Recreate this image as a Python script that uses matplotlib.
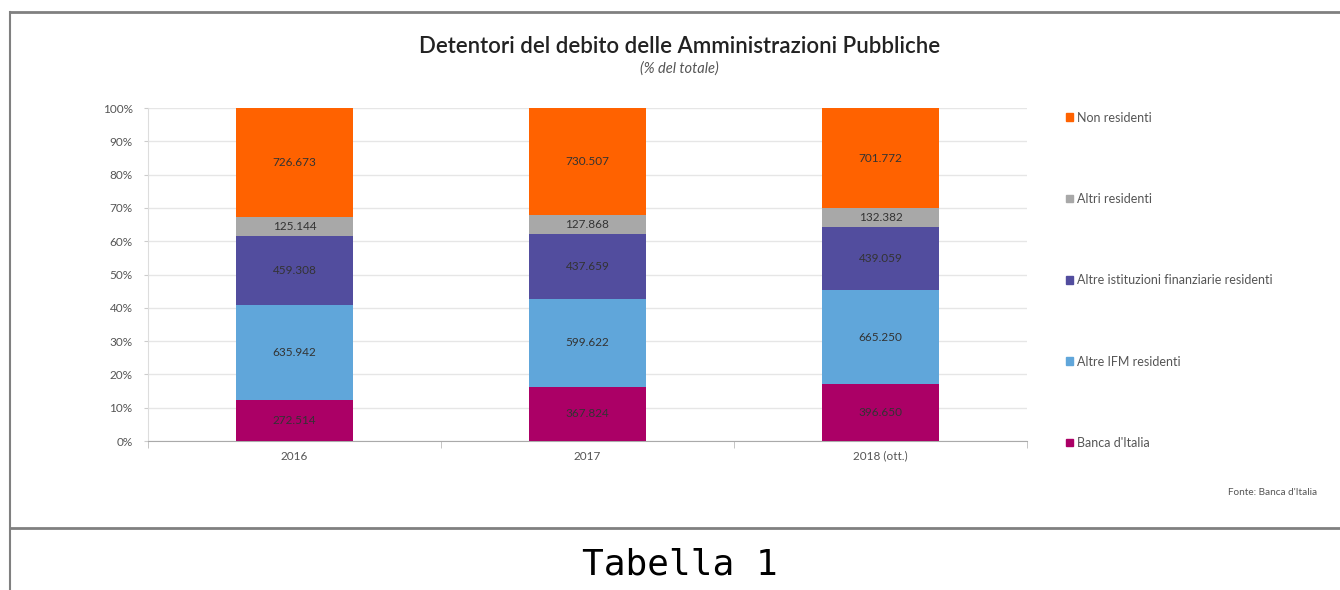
import numpy as np
import matplotlib
matplotlib.use("Agg")
import matplotlib.pyplot as plt
from matplotlib.lines import Line2D
from matplotlib.patches import Patch

# -------------------- DATI --------------------
anni = ["2016", "2017", "2018 (ott.)"]
serie = ["Banca d'Italia", "Altre IFM residenti", "Altre istituzioni finanziarie residenti",
         "Altri residenti", "Non residenti"]
banca_italia = [272514, 367824, 396650]
altre_ifm = [635942, 599622, 665250]
altre_istituzioni = [459308, 437659, 439059]
altri_residenti = [125144, 127868, 132382]
non_residenti = [726673, 730507, 701772]
etichette = {
    "Banca d'Italia": ["272.514", "367.824", "396.650"],
    "Altre IFM residenti": ["635.942", "599.622", "665.250"],
    "Altre istituzioni finanziarie residenti": ["459.308", "437.659", "439.059"],
    "Altri residenti": ["125.144", "127.868", "132.382"],
    "Non residenti": ["726.673", "730.507", "701.772"],
}
colori = ["#AB0066", "#60A6DA", "#524D9E", "#A8A8A8", "#FF6200"]

valori = np.array([banca_italia, altre_ifm, altre_istituzioni, altri_residenti, non_residenti], dtype=float)
percentuali = valori / valori.sum(axis=0) * 100

plt.rcParams["font.family"] = ["Lato", "DejaVu Sans"]

fig = plt.figure(figsize=(13.4, 5.9), dpi=100)
ax = fig.add_axes([0.1104, 0.2525, 0.656, 0.5644])

x = np.arange(len(anni))
base = np.zeros(len(anni))
for i, nome in enumerate(serie):
    barre = ax.bar(x, percentuali[i], bottom=base, width=0.4, color=colori[i], label=nome, zorder=3)
    for j, b in enumerate(barre):
        ax.text(b.get_x() + b.get_width() / 2, base[j] + percentuali[i][j] / 2, etichette[nome][j],
                ha="center", va="center", fontsize=8.5, color="#333333", zorder=4)
    base += percentuali[i]

# assi
ax.set_xlim(-0.5, 2.5)
ax.set_ylim(0, 100)
ax.set_yticks(np.arange(0, 101, 10))
ax.set_yticklabels([f"{v}%" for v in range(0, 101, 10)])
ax.set_xticks(x)
ax.set_xticklabels(anni)
ax.set_xticks([-0.5, 0.5, 1.5, 2.5], minor=True)
ax.tick_params(axis="x", which="major", length=0, labelsize=8.5, labelcolor="#555555", pad=7)
ax.tick_params(axis="x", which="minor", length=5, color="#BBBBBB")
ax.tick_params(axis="y", length=3, color="#CCCCCC", labelsize=8.5, labelcolor="#555555", pad=8)
ax.grid(axis="y", color="#E6E6E6", linewidth=1, zorder=0)
for s in ["top", "right"]:
    ax.spines[s].set_visible(False)
ax.spines["left"].set_color("#DDDDDD")
ax.spines["bottom"].set_color("#AAAAAA")

# legenda
maniglie = [Patch(color=colori[i], label=serie[i]) for i in range(len(serie) - 1, -1, -1)]
fig.legend(handles=maniglie, loc="upper left", bbox_to_anchor=(0.787, 0.830), frameon=False,
           fontsize=9, labelcolor="#555555", handlelength=0.55, handleheight=0.55,
           handletextpad=0.35, labelspacing=5.55)

# titoli
fig.text(0.507, 0.922, "Detentori del debito delle Amministrazioni Pubbliche", ha="center", va="center",
         fontsize=16, fontweight="semibold", color="#222222")
fig.text(0.507, 0.883, "(% del totale)", ha="center", va="center", fontsize=10.5, style="italic", color="#555555")
fig.text(0.983, 0.165, "Fonte: Banca d'Italia", ha="right", va="center", fontsize=7.2, color="#555555")

# cornice della tabella
col = "#808080"
fig.add_artist(Line2D([0.0075, 1.0], [0.9797, 0.9797], color=col, linewidth=2))
fig.add_artist(Line2D([0.0075, 1.0], [0.1051, 0.1051], color=col, linewidth=2))
fig.add_artist(Line2D([0.0075, 0.0075], [0.0, 0.9797], color=col, linewidth=1.5))
fig.text(0.507, 0.043, "Tabella 1", ha="center", va="center", fontsize=26, family="DejaVu Sans Mono", color="black")

fig.savefig("out.png", dpi=100)
